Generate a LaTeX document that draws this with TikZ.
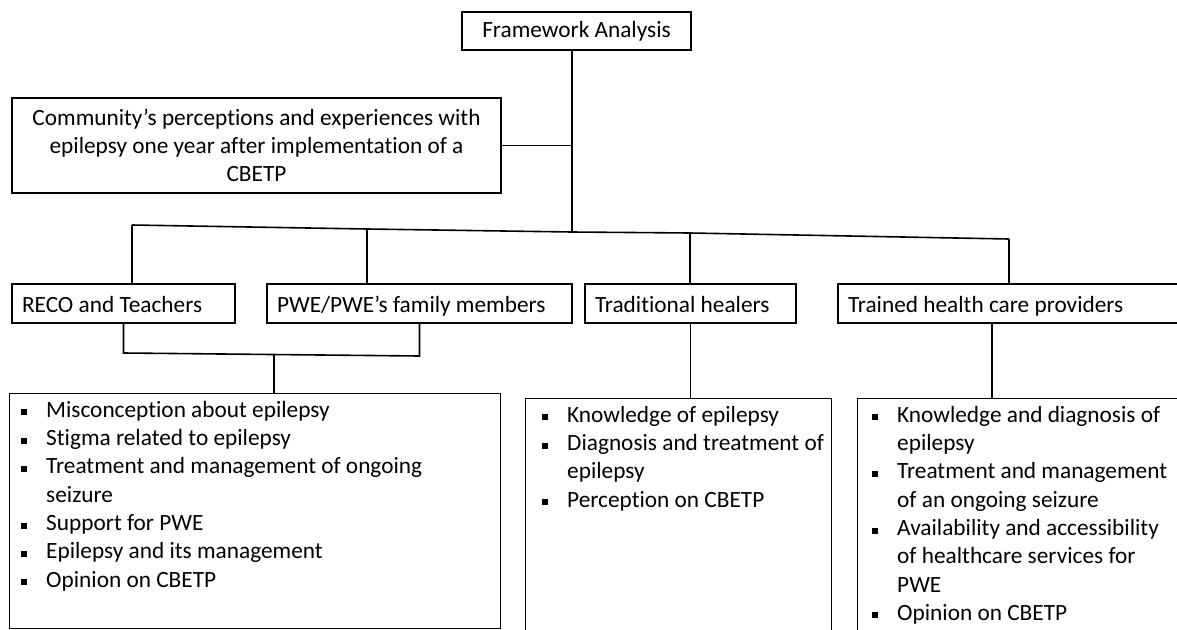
\documentclass[tikz,border=0pt]{standalone}
\usepackage{fontspec}
\setmainfont{Carlito}[Ligatures=NoCommon]
\usetikzlibrary{positioning}
\newcommand{\sqb}{\makebox[25pt][l]{\rule[2pt]{6pt}{6pt}}}
\newcommand{\hang}{\hspace*{25pt}}

\begin{document}
\begin{tikzpicture}[x=1pt,y=-1pt,
  every node/.style={font=\fontsize{23.3}{28.3}\selectfont},
  topbox/.style={draw,line width=2.4pt,inner sep=0pt},
  groupbox/.style={draw,line width=1.6pt,inner xsep=10pt,inner ysep=0pt,align=flush left,
    text height=22pt,text depth=5pt,minimum height=39pt},
  listbox/.style={draw,line width=1.4pt,inner sep=0pt,anchor=north west},
  listtext/.style={align=flush left,inner sep=0pt,anchor=north west},
  link/.style={line width=1.6pt}]
\useasboundingbox (0,0) rectangle (1177,629);
\clip (0,0) rectangle (1177,629);

% top level
\node[topbox,minimum width=229pt,minimum height=38pt] (fw) at (576.5,31) {Framework Analysis};
\node[topbox,minimum width=489pt,minimum height=95pt,align=center] (comm) at (256.5,145.5)
  {Community’s perceptions and experiences with\\ epilepsy one year after implementation of a\\ CBETP};

% groups
\node[groupbox,text width=203pt] (reco) at (123.5,303.5) {RECO and Teachers};
\node[groupbox,text width=285pt] (pwe) at (419.5,303.5) {PWE/PWE’s family members};
\node[groupbox,text width=191pt] (trad) at (690.5,303.5) {Traditional healers};
\node[groupbox,text width=345pt] (trained) at (1020.5,303.5) {Trained health care providers};

% themes
\node[listbox,minimum width=491pt,minimum height=235pt] (lst1) at (9,393) {};
\node[listtext] (txt1) at ([shift={(12,8)}]lst1.north west)
  {\sqb Misconception about epilepsy\\
   \sqb Stigma related to epilepsy\\
   \sqb Treatment and management of ongoing\\
   \hang seizure\\
   \sqb Support for PWE\\
   \sqb Epilepsy and its management\\
   \sqb Opinion on CBETP};
\node[listbox,minimum width=306pt,minimum height=250pt] (lst2) at (525,398) {};
\node[listtext] (txt2) at ([shift={(17,8)}]lst2.north west)
  {\sqb Knowledge of epilepsy\\
   \sqb Diagnosis and treatment of\\
   \hang epilepsy\\
   \sqb Perception on CBETP};
\node[listbox,minimum width=340pt,minimum height=250pt] (lst3) at (857,398) {};
\node[listtext] (txt3) at ([shift={(15,8)}]lst3.north west)
  {\sqb Knowledge and diagnosis of\\
   \hang epilepsy\\
   \sqb Treatment and management\\
   \hang of an ongoing seizure\\
   \sqb Availability and accessibility\\
   \hang of healthcare services for\\
   \hang PWE\\
   \sqb Opinion on CBETP};

% connectors
\coordinate (b1) at (132,225);
\coordinate (b2) at (367,229);
\coordinate (hub) at (572,232);
\coordinate (b3) at (690,233);
\coordinate (b4) at (1009,239);
\draw[link] (fw.south -| hub) -- (hub);
\draw[link] (comm.east) -- (comm.east -| hub);
\draw[link] (b1) -- (b2) -- (hub) -- (b3) -- (b4);
\foreach \b/\n in {b1/reco,b2/pwe,b3/trad,b4/trained}
  \draw[link] (\b) -- (\b |- \n.north);

\coordinate (j1) at (124,353);
\coordinate (j2) at (420,356);
\coordinate (m1) at (274,354.5);
\coordinate (t3) at (992,0);
\draw[link] (reco.south) -- (reco.south |- j1) -- (pwe.south |- j2) -- (pwe.south);
\draw[link] (m1) -- (m1 |- lst1.north);
\draw[link] (trad.south) -- (trad.south |- lst2.north);
\draw[link] (trained.south -| t3) -- (lst3.north -| t3);
\end{tikzpicture}
\end{document}
